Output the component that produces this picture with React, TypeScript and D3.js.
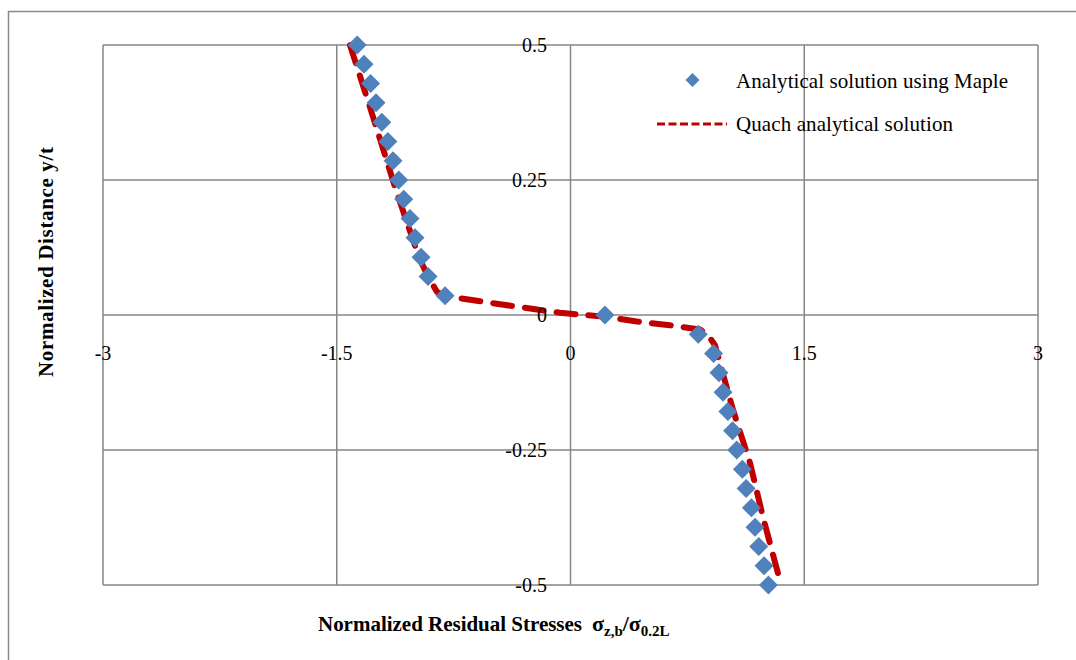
import React from 'react';
import * as d3 from 'd3';

// ---- data ----
const xTicks = [-3, -1.5, 0, 1.5, 3];
const xTickLabels = ['-3', '-1.5', '0', '1.5', '3'];
const yTicks = [-0.5, -0.25, 0, 0.25, 0.5];
const yTickLabels = ['-0.5', '-0.25', '0', '0.25', '0.5'];

// Analytical solution using Maple (diamonds)
const mapleY = [
  0.5, 0.4643, 0.4286, 0.3929, 0.3571, 0.3214, 0.2857, 0.25, 0.2143, 0.1786, 0.1429, 0.1071, 0.0714, 0.0357,
  0,
  -0.0357, -0.0714, -0.1071, -0.1429, -0.1786, -0.2143, -0.25, -0.2857, -0.3214, -0.3571, -0.3929, -0.4286, -0.4643, -0.5,
];
const mapleX = [
  -1.369, -1.325, -1.283, -1.248, -1.211, -1.172, -1.139, -1.102, -1.07, -1.03, -0.998, -0.959, -0.914, -0.805,
  0.221,
  0.82, 0.918, 0.953, 0.979, 1.01, 1.04, 1.067, 1.103, 1.127, 1.161, 1.184, 1.208, 1.242, 1.27,
];

// Quach analytical solution (dashed line)
const quachX = [
  -1.415, -1.287, -1.114, -0.966, -0.902, -0.857, -0.805, -0.452, -0.067, 0.209, 0.426, 0.638, 0.831, 0.882, 0.927,
  1.043, 1.152, 1.235, 1.331,
];
const quachY = [
  0.5, 0.385, 0.226, 0.102, 0.065, 0.043, 0.035, 0.02, 0.004, -0.003, -0.012, -0.019, -0.027, -0.037, -0.056,
  -0.176, -0.274, -0.374, -0.478,
];

const seriesNames = ['Analytical solution using Maple', 'Quach analytical solution'];

const BLUE = '#4F81BD';
const RED = '#C00000';
const GRID = '#868686';
const FONT = '"Liberation Serif", "Times New Roman", serif';

const diamond = (r: number) => `M0,${-r}L${r},0L0,${r}L${-r},0Z`;

export default function App() {
  const x = d3.scaleLinear().domain([-3, 3]).range([103, 1038]);
  const y = d3.scaleLinear().domain([-0.5, 0.5]).range([585, 45]);

  const maple = mapleX.map((v, i) => ({ x: v, y: mapleY[i] }));
  const quach = quachX.map((v, i) => ({ x: v, y: quachY[i] }));

  const line = d3
    .line<{ x: number; y: number }>()
    .x((d) => x(d.x))
    .y((d) => y(d.y))
    .curve(d3.curveLinear);

  return (
    <svg
      width={1076}
      height={660}
      style={{ position: 'absolute', left: 0, top: 0, display: 'block', background: '#fff' }}
      fontFamily={FONT}
    >
      <rect x={0} y={0} width={1076} height={660} fill="#fff" />
      {/* outer chart border */}
      <rect x={8.5} y={11.5} width={1100} height={700} fill="none" stroke="#8a8a8a" strokeWidth={1.5} />

      {/* gridlines */}
      {xTicks.map((t) => (
        <line key={'gx' + t} x1={x(t)} x2={x(t)} y1={y(0.5)} y2={y(-0.5)} stroke={GRID} strokeWidth={1.5} />
      ))}
      {yTicks.map((t) => (
        <line key={'gy' + t} x1={x(-3)} x2={x(3)} y1={y(t)} y2={y(t)} stroke={GRID} strokeWidth={1.5} />
      ))}

      {/* Quach dashed line */}
      <path
        d={line(quach) || ''}
        fill="none"
        stroke={RED}
        strokeWidth={6}
        strokeDasharray="19 13"
        strokeLinecap="round"
        strokeLinejoin="round"
      />

      {/* Maple diamonds */}
      {maple.map((d, i) => (
        <path key={'m' + i} d={diamond(9.5)} transform={`translate(${x(d.x)},${y(d.y)})`} fill={BLUE} />
      ))}

      {/* tick labels */}
      {yTicks.map((t, i) => (
        <text key={'yl' + t} x={547} y={y(t) + 7} textAnchor="end" fontSize={20} fill="#000">
          {yTickLabels[i]}
        </text>
      ))}
      {xTicks.map((t, i) => (
        <text key={'xl' + t} x={x(t)} y={360} textAnchor="middle" fontSize={20} fill="#000">
          {xTickLabels[i]}
        </text>
      ))}

      {/* legend */}
      <path d={diamond(7)} transform="translate(692.5,80)" fill={BLUE} />
      <text x={736} y={88} fontSize={21} fill="#000" textLength={272} lengthAdjust="spacing">
        {seriesNames[0]}
      </text>
      <line x1={657} x2={727} y1={124} y2={124} stroke={RED} strokeWidth={3} strokeDasharray="8 3.5" />
      <text x={736} y={131} fontSize={21} fill="#000" textLength={217} lengthAdjust="spacing">
        {seriesNames[1]}
      </text>

      {/* axis titles */}
      <text x={318} y={631} fontSize={21} fontWeight="bold" fill="#000" textLength={264} lengthAdjust="spacing">
        Normalized Residual Stresses
      </text>
      <text x={592} y={631} fontSize={22} fontWeight="bold" fill="#000">
        σ<tspan fontSize={15} dy={5}>z,b</tspan>
        <tspan dy={-5}>/σ</tspan>
        <tspan fontSize={15} dy={5}>0.2L</tspan>
      </text>
      <text
        transform="translate(53,377) rotate(-90)"
        x={0}
        y={0}
        fontSize={21}
        fontWeight="bold"
        fill="#000"
        textLength={230}
        lengthAdjust="spacing"
      >
        Normalized Distance y/t
      </text>
    </svg>
  );
}
